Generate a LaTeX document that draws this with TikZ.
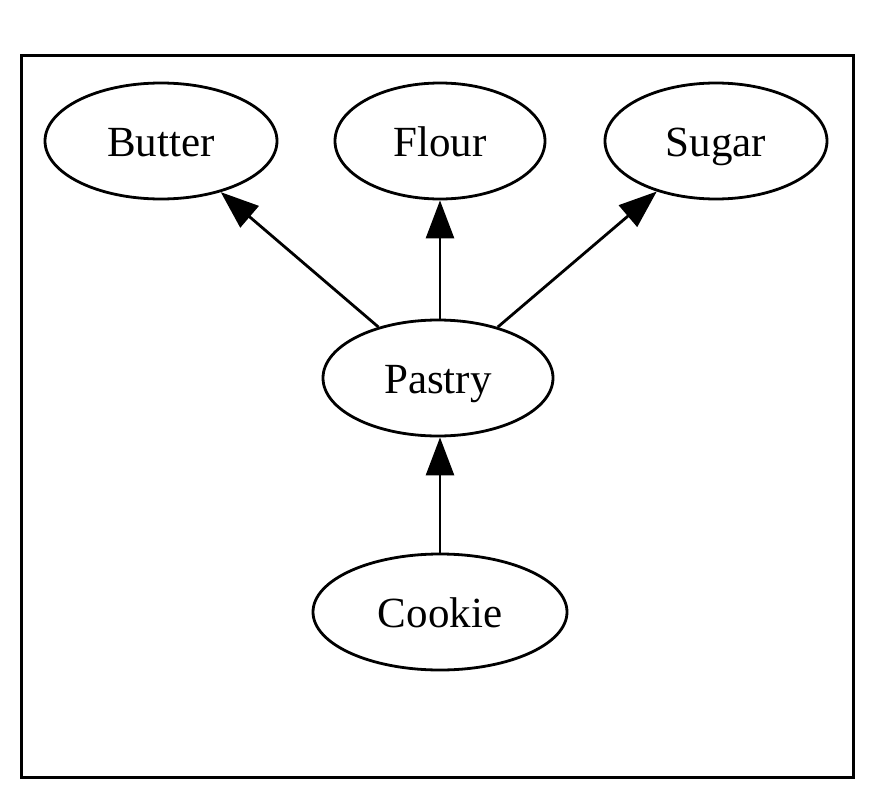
\documentclass[tikz,border=0pt]{standalone}
\usepackage{fontspec}
\setmainfont{Liberation Serif}
\usetikzlibrary{shapes.geometric,arrows.meta}
\tikzset{
  ing/.style={ellipse, draw, line width=2.8pt, inner sep=0pt, minimum height=116pt, text height=41pt, text depth=11pt, font=\fontsize{43}{50}\selectfont},
  dep/.style={line width=2.8pt, -{Triangle[length=38pt,width=28pt]}}
}
\begin{document}
\begin{tikzpicture}[x=1pt,y=-1pt]
\useasboundingbox (0,0) rectangle (871,806);
\draw[line width=3pt] (21,55) rectangle (853,777);
\node[ing, minimum width=232pt] (butter) at (161,141) {Butter};
\node[ing, minimum width=210pt] (flour) at (440,141) {Flour};
\node[ing, minimum width=222pt] (sugar) at (716,141) {Sugar};
\node[ing, minimum width=230pt] (pastry) at (438,378) {Pastry};
\node[ing, minimum width=254pt] (cookie) at (440,612) {Cookie};
\draw[dep] (pastry) -- (butter);
\draw[dep] (pastry.north -| flour) -- (flour);
\draw[dep] (pastry) -- (sugar);
\draw[dep] (cookie) -- (pastry.south -| cookie);
\end{tikzpicture}
\end{document}
